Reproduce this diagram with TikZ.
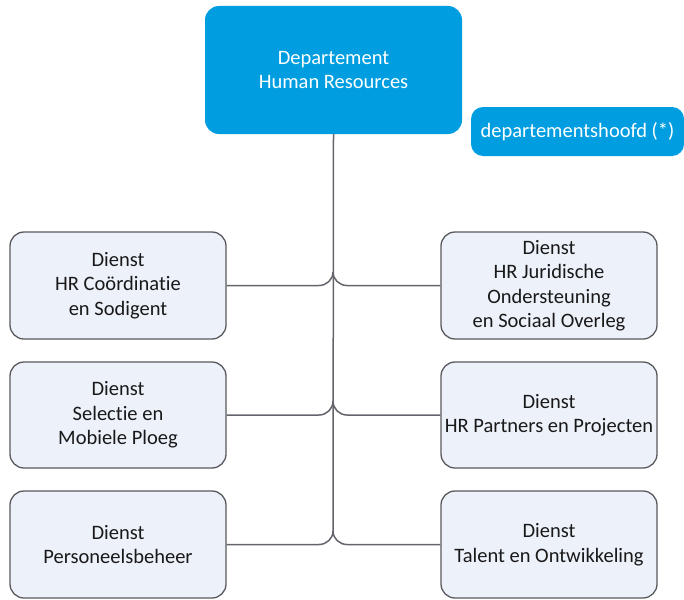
\documentclass[tikz,border=0pt]{standalone}
\usepackage{fontspec}
\setmainfont{Carlito}[Ligatures=NoCommon]
\definecolor{hrblue}{RGB}{0,158,224}
\definecolor{boxfill}{RGB}{237,241,250}
\definecolor{boxline}{RGB}{89,89,94}
\definecolor{conline}{RGB}{100,100,108}
\begin{document}
\begin{tikzpicture}[x=1pt,y=-1pt,
  bluebox/.style={draw=none,fill=hrblue,rounded corners=14pt,text=white,align=center,
    font=\fontsize{20.5}{24}\selectfont,inner sep=0pt},
  dienst/.style={draw=boxline,line width=1.3pt,fill=boxfill,rounded corners=14pt,
    minimum width=216pt,align=center,inner sep=0pt,text=black!90,
    font=\fontsize{20.5}{24.5}\selectfont},
  con/.style={draw=conline,line width=1.5pt}]
\useasboundingbox (0,0) rectangle (684,599);
\node[bluebox,minimum width=257pt,minimum height=128pt] (hr) at (333.5,70) {Departement\\Human Resources};
\node[bluebox,rounded corners=12pt,minimum width=213pt,minimum height=49pt] (head) at (577.5,131.5) {departementshoofd (*)};
\node[dienst,minimum height=107pt] (l1) at (118,285.5) {Dienst\\HR Coördinatie\\en Sodigent};
\node[dienst,minimum height=106pt] (l2) at (118,415) {Dienst\\Selectie en\\Mobiele Ploeg};
\node[dienst,minimum height=107pt] (l3) at (118,544.5) {Dienst\\Personeelsbeheer};
\node[dienst,minimum height=107pt] (r1) at (549,285.5) {Dienst\\HR Juridische\\Ondersteuning\\en Sociaal Overleg};
\node[dienst,minimum height=106pt] (r2) at (549,415) {Dienst\\HR Partners en Projecten};
\node[dienst,minimum height=107pt] (r3) at (549,544.5) {Dienst\\Talent en Ontwikkeling};
\coordinate (j1) at (333,272);
\coordinate (j2) at (333,401);
\coordinate (j3) at (333,531);
\draw[con] (hr.south) -- (j3);
\foreach \r/\j in {1/j1,2/j2,3/j3}{
  \draw[con] (l\r.east) -- ([xshift=-14pt]\j |- l\r.east) to[out=0,in=-90] (\j);
  \draw[con] (r\r.west) -- ([xshift=14pt]\j |- r\r.west) to[out=180,in=-90] (\j);
}
\end{tikzpicture}
\end{document}
